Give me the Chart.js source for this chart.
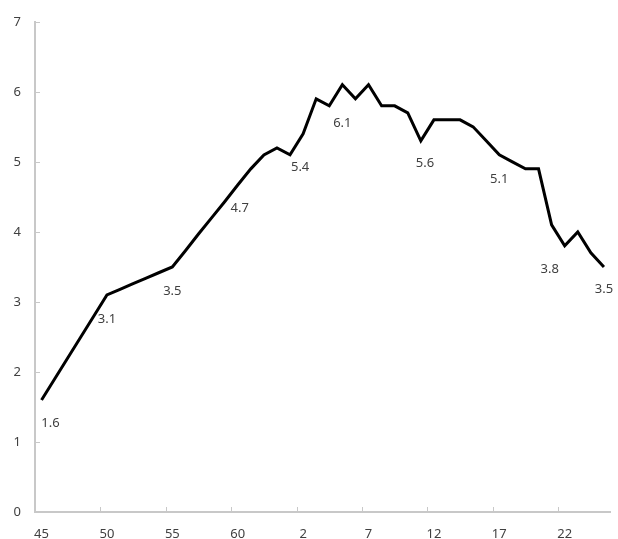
<!DOCTYPE html>
<html>
<head>
<meta charset="utf-8">
<script src="https://cdn.jsdelivr.net/npm/chart.js@4.4.1/dist/chart.umd.min.js"></script>
<style>
  html, body { margin: 0; padding: 0; background: #ffffff; }
  canvas { display: block; }
</style>
</head>
<body>
<canvas id="c" width="618" height="539"></canvas>
<script>
// Categories: Showa 45-63, Heisei 元 (1) - 25
const categories = ['45','46','47','48','49','50','51','52','53','54','55','56','57','58','59','60','61','62','63',
  '元','2','3','4','5','6','7','8','9','10','11','12','13','14','15','16','17','18','19','20','21','22','23','24','25'];

const values = [1.6,1.9,2.2,2.5,2.8,3.1,3.18,3.26,3.34,3.42,3.5,3.73,3.97,4.2,4.43,4.67,4.9,5.1,5.2,
  5.1,5.4,5.9,5.8,6.1,5.9,6.1,5.8,5.8,5.7,5.3,5.6,5.6,5.6,5.5,5.3,5.1,5.0,4.9,4.9,4.1,3.8,4.0,3.7,3.5];

// x-axis labels shown every 5 categories
const shownTickLabels = ['45','50','55','60','2','7','12','17','22'];

// which points carry a value label
const labelledIndices = [0, 5, 10, 15, 20, 23, 30, 35, 40, 43];

const yTicks = [0,1,2,3,4,5,6,7];

// label placement relative to the point (style, not data)
const labelOffsets = {0:[9,23],5:[0,24],10:[0,24],15:[2,23],20:[-3,33],23:[0,38],30:[-9,43],35:[0,24],40:[-15,23],43:[0,22]};

const AXIS_COLOR = '#c8c8c8';
const TEXT_COLOR = '#404040';
const FONT = '13px "Noto Sans", "Open Sans", sans-serif';

const innerTicks = {
  id: 'innerTicks',
  afterDraw(chart) {
    const ctx = chart.ctx;
    const xs = chart.scales.x, ys = chart.scales.y;
    ctx.save();
    ctx.strokeStyle = AXIS_COLOR;
    ctx.lineWidth = 1;
    for (let i = 5; i < categories.length; i += 5) {
      const x = Math.round(xs.getPixelForValue(i - 0.5)) + 0.5;
      ctx.beginPath();
      ctx.moveTo(x, xs.top);
      ctx.lineTo(x, xs.top - 5);
      ctx.stroke();
    }
    yTicks.forEach(v => {
      const y = Math.round(ys.getPixelForValue(v)) + 0.5;
      ctx.beginPath();
      ctx.moveTo(ys.right, y);
      ctx.lineTo(ys.right + 5, y);
      ctx.stroke();
    });
    ctx.restore();
  }
};

const pointLabels = {
  id: 'pointLabels',
  afterDatasetsDraw(chart) {
    const ctx = chart.ctx;
    const meta = chart.getDatasetMeta(0);
    ctx.save();
    ctx.font = FONT;
    ctx.fillStyle = TEXT_COLOR;
    ctx.textAlign = 'center';
    ctx.textBaseline = 'middle';
    labelledIndices.forEach(i => {
      const p = meta.data[i];
      const off = labelOffsets[i] || [0, 24];
      ctx.fillText(values[i].toFixed(1), p.x + off[0], p.y + off[1]);
    });
    ctx.restore();
  }
};

new Chart(document.getElementById('c'), {
  type: 'line',
  data: {
    labels: categories,
    datasets: [{
      data: values,
      borderColor: '#000000',
      borderWidth: 3,
      tension: 0,
      pointRadius: 0,
      pointHoverRadius: 0,
      fill: false,
      borderJoinStyle: 'miter'
    }]
  },
  options: {
    responsive: false,
    animation: false,
    events: [],
    layout: { padding: { top: 21, right: 6, left: 0, bottom: 0 } },
    plugins: { legend: { display: false }, tooltip: { enabled: false } },
    scales: {
      x: {
        type: 'category',
        offset: true,
        grid: { display: false, drawTicks: false, offset: true },
        border: { display: true, color: AXIS_COLOR, width: 2 },
        ticks: {
          autoSkip: false,
          maxRotation: 0,
          padding: 14,
          color: TEXT_COLOR,
          font: { family: '"Noto Sans", "Open Sans", sans-serif', size: 13 },
          callback: function(val, idx) {
            const lbl = categories[idx];
            return (idx % 5 === 0 && shownTickLabels.includes(lbl)) ? lbl : '';
          }
        },
        afterFit(scale) { scale.height = 27; }
      },
      y: {
        min: 0, max: 7,
        grid: { display: false, drawTicks: false },
        border: { display: true, color: AXIS_COLOR, width: 2 },
        ticks: {
          stepSize: 1,
          padding: 14,
          color: TEXT_COLOR,
          font: { family: '"Noto Sans", "Open Sans", sans-serif', size: 13 }
        },
        afterFit(scale) { scale.width = 35; }
      }
    }
  },
  plugins: [innerTicks, pointLabels]
});
</script>
</body>
</html>
